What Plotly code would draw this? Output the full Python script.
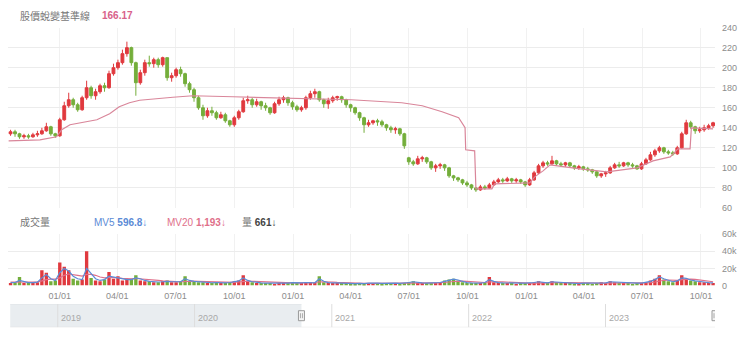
import pandas as pd
import plotly.graph_objects as go

# ---------------- data (weekly estimates) ----------------
week_start = "2020-10-16"
n_weeks = 158

open_ = [134,136,134,131,132,131,133,134,137,141,
         134,132,148,162,168,163,158,170,180,172,
         176,182,180,194,200,205,214,220,205,185,
         195,205,204,208,203,210,190,192,198,194,
         184,178,170,160,152,157,155,150,153,147,
         143,150,156,167,168,163,166,162,160,155,
         164,168,170,165,161,158,160,170,174,176,
         168,164,167,170,171,168,163,160,155,150,
         143,145,147,146,143,140,138,139,134,110,
         106,104,109,110,106,100,102,103,100,92,
         90,88,85,83,80,78,81,80,83,86,
         88,87,89,87,88,86,83,88,95,102,
         105,104,107,104,103,105,102,100,101,99,
         98,96,92,94,95,100,103,102,105,103,
         102,99,104,108,113,117,120,116,115,114,
         120,134,145,141,137,138,140,142]
high = [138,138,135,134,134,135,137,140,145,142,
        135,150,166,175,170,165,172,187,182,179,
        184,185,197,204,208,218,226,221,206,198,
        208,212,210,210,211,210,195,200,201,195,
        186,180,172,163,160,161,157,156,155,148,
        152,158,170,172,170,169,167,165,161,166,
        171,172,171,167,163,162,172,177,179,177,
        169,170,172,172,172,169,164,161,156,151,
        148,148,149,148,144,142,141,140,135,111,
        108,112,112,111,107,104,105,104,101,93,
        91,89,87,84,81,83,83,85,88,90,
        90,91,90,90,89,87,90,97,104,107,
        107,112,108,106,106,106,103,103,102,101,
        99,97,95,97,102,105,106,106,106,105,
        103,106,110,116,119,122,121,118,117,122,
        136,148,147,142,141,143,144,146]
low = [132,131,129,129,129,130,131,133,136,132,
       130,131,147,160,160,156,157,168,169,168,
       174,176,179,192,198,203,211,202,172,183,
       192,201,200,200,201,187,186,190,191,181,
       175,166,158,148,150,152,148,149,145,141,
       141,148,155,164,160,161,158,157,153,154,
       162,165,162,158,156,156,158,168,170,166,
       160,159,165,167,165,160,156,153,147,135,
       141,143,142,141,137,135,134,132,119,103,
       102,103,106,104,98,96,99,97,90,87,
       86,83,81,78,76,77,78,79,82,85,
       85,86,85,85,84,81,82,87,94,100,
       102,103,102,101,101,100,98,98,97,96,
       94,90,90,91,94,99,100,101,101,100,
       98,98,103,107,111,115,114,113,112,113,
       119,133,139,134,135,136,138,140]
close = [136,134,131,132,131,133,134,137,141,134,
         132,148,162,168,163,158,170,180,172,176,
         182,180,194,200,205,214,220,205,185,195,
         205,204,208,203,210,190,192,198,194,184,
         178,170,160,152,157,155,150,153,147,143,
         150,156,167,168,163,166,162,160,155,164,
         168,170,165,161,158,160,170,174,176,168,
         164,167,170,171,168,163,160,155,150,143,
         145,147,146,143,140,138,139,134,122,106,
         104,109,110,106,100,102,103,100,92,90,
         88,85,83,80,78,81,80,83,86,88,
         87,89,87,88,86,83,88,95,102,105,
         104,107,104,103,105,102,100,101,99,98,
         96,92,94,95,100,103,102,105,103,102,
         99,104,108,113,117,120,116,115,114,120,
         134,145,141,137,138,140,142,145]

volume_k = [3,4,10,3,3,4,4,18,15,5,
            6,27,22,18,8,6,7,40,9,6,
            5,7,16,8,11,6,7,8,12,6,
            5,5,4,4,5,6,4,4,5,11,
            5,5,4,4,3,3,4,3,3,4,
            5,6,12,5,4,3,3,3,3,2,
            3,3,3,4,3,3,4,4,3,11,
            4,3,3,3,3,3,2,2,3,2,
            3,3,3,2,3,3,3,2,3,4,
            5,3,3,3,3,3,4,6,7,8,
            6,4,3,3,3,3,4,10,4,3,
            3,3,3,2,3,3,3,4,5,4,
            3,5,4,3,3,3,2,2,3,3,
            2,3,4,3,5,4,3,3,3,2,
            3,3,4,6,8,12,7,5,4,6,
            12,8,6,5,4,4,3,3]
mv5_k = [3.5,3.6,6,5,3.5,3.5,4,9,13,8,
         6,15,20,17,11,8,7,20,14,8,
         6,7,11,10,9,8,7,7,9,8,
         6,5,4.5,4.2,4.5,5,4.5,4.2,4.5,8,
         6,5,4.5,4,3.5,3.3,3.6,3.3,3.2,3.6,
         4.5,5.5,9,6,4.5,3.5,3.2,3,3,2.5,
         2.8,3,3,3.5,3.2,3.1,3.6,3.8,3.3,8,
         5,3.5,3.2,3,3,3,2.5,2.3,2.7,2.3,
         2.8,3,3,2.5,2.8,3,3,2.5,2.8,3.6,
         4.5,3.5,3.2,3,3,3,3.6,5,6.5,7.5,
         6.5,5,3.5,3.2,3,3,3.6,7,5,3.5,
         3.2,3,3,2.5,2.8,3,3,3.6,4.5,4.2,
         3.3,4.5,4.2,3.3,3.1,3,2.5,2.3,2.8,3,
         2.5,2.8,3.6,3.2,4.5,4.2,3.3,3.1,3,2.5,
         2.8,3,3.6,5,7,10,8,6,4.5,5.5,
         9,8.5,6.5,5.5,4.5,4.2,3.4,3.2]
mv20_k = [4,4,4.2,4.3,4.3,4.2,4.3,5.5,7,7.5,
          7.5,9,12,13.5,13,12,11,13,13,12,
          10,9,9.5,9.5,9,8.5,8,8,8.3,8,
          7.5,7,6.5,6,5.5,5,4.8,4.6,4.5,5,
          5.2,5.2,5,4.8,4.5,4.2,4,3.8,3.6,3.6,
          3.8,4.2,5,5.2,5,4.8,4.5,4,3.6,3.3,
          3.1,3,3,3.1,3.2,3.2,3.3,3.4,3.5,4.5,
          4.6,4.5,4.2,3.8,3.5,3.2,3,2.8,2.7,2.6,
          2.6,2.7,2.8,2.8,2.8,2.8,2.9,2.9,2.9,3,
          3.3,3.4,3.4,3.3,3.2,3.2,3.3,3.6,4.2,4.8,
          5.2,5.2,5,4.6,4.2,3.8,3.6,4.3,4.6,4.5,
          4.3,4,3.6,3.3,3,2.9,2.9,3,3.2,3.4,
          3.5,3.6,3.7,3.7,3.6,3.5,3.3,3,2.9,2.8,
          2.7,2.7,2.8,2.9,3.1,3.3,3.4,3.4,3.3,3.1,
          3,2.9,3,3.4,4.2,5.5,6.2,6.5,6.4,6.2,
          7,7.5,7.6,7.2,6.5,5.8,5,4.5]

basis_dates = ["2020-10-13","2020-12-01","2020-12-27","2021-01-04","2021-01-17",
               "2021-02-28","2021-03-20","2021-04-04","2021-04-20","2021-05-06",
               "2021-06-27","2021-07-28","2021-09-29","2022-01-13","2022-04-02",
               "2022-06-20","2022-07-22","2022-08-22","2022-09-17","2022-09-27",
               "2022-09-28","2022-10-12","2022-10-14","2022-11-08","2022-11-12",
               "2023-01-06","2023-01-14","2023-01-27","2023-02-07","2023-03-26",
               "2023-05-07","2023-06-23","2023-07-18","2023-08-14","2023-08-26",
               "2023-09-14","2023-09-16","2023-10-20"]
basis_vals = [127,128,131,138,143,
              148,154,161,165,167.5,
              170.5,172,171,169,168,
              165,162,156,150,140,
              118,117,79,79,84,
              85,91,97,103,99,
              96,100,107,111,119,
              119,140,139]

price_ticks = [60, 80, 100, 120, 140, 160, 180, 200, 220, 240]
vol_ticks = [0, 20, 40, 60]
vol_tick_text = ["0", "20k", "40k", "60k"]
nav_years = ["2019", "2020", "2021", "2022", "2023"]

title_label = "股價蛻變基準線"
title_value = "166.17"
vol_label = "成交量"
mv5_label, mv5_value = "MV5", "596.8↓"
mv20_label, mv20_value = "MV20", "1,193↓"
qty_label, qty_value = "量", "661↓"

view_start, view_end = "2020-10-12", "2023-10-23"
nav_start, nav_end = "2018-08-27", "2023-10-20"

for arr in (open_, high, low, close, volume_k, mv5_k, mv20_k):
    assert len(arr) == n_weeks
assert len(basis_dates) == len(basis_vals)

dates = pd.date_range(week_start, periods=n_weeks, freq="7D")

# ---------------- styling ----------------
RED = "#e0393e"
GREEN = "#74ae3b"
PINK_LINE = "#d9869a"
BLUE = "#5b8bd6"
PINK = "#e0708a"
GRID = "#ececec"
TXT = "#8c8c8c"
FONT = "Liberation Sans, Noto Sans CJK TC, sans-serif"

H = 344.0
def py(px):
    return 1 - px / H

fig = go.Figure()

fig.add_trace(go.Candlestick(
    x=dates, open=open_, high=high, low=low, close=close,
    increasing=dict(line=dict(color=RED, width=1), fillcolor=RED),
    decreasing=dict(line=dict(color=GREEN, width=1), fillcolor=GREEN),
    whiskerwidth=0, xaxis="x", yaxis="y", showlegend=False, hoverinfo="skip"))

fig.add_trace(go.Scatter(
    x=basis_dates, y=basis_vals, mode="lines",
    line=dict(color=PINK_LINE, width=1.2), xaxis="x", yaxis="y",
    showlegend=False, hoverinfo="skip"))

bar_colors = [RED if c >= o else GREEN for o, c in zip(open_, close)]
fig.add_trace(go.Bar(
    x=dates, y=volume_k, marker=dict(color=bar_colors, line=dict(width=0)),
    xaxis="x2", yaxis="y2", showlegend=False, hoverinfo="skip"))
fig.add_trace(go.Scatter(
    x=dates, y=mv20_k, mode="lines", line=dict(color=PINK, width=1.2),
    xaxis="x2", yaxis="y2", showlegend=False, hoverinfo="skip"))
fig.add_trace(go.Scatter(
    x=dates, y=mv5_k, mode="lines", line=dict(color=BLUE, width=1.2),
    xaxis="x2", yaxis="y2", showlegend=False, hoverinfo="skip"))

# invisible trace to hold navigator axis
fig.add_trace(go.Scatter(x=[nav_start, nav_end], y=[None, None], mode="lines",
                         xaxis="x3", yaxis="y3", showlegend=False, hoverinfo="skip"))

shapes = []
# navigator shading and frame
shapes.append(dict(type="rect", xref="x3", yref="y3", x0=nav_start, x1=view_start,
                   y0=0, y1=1, fillcolor="#e9edf0", line=dict(width=0), layer="below"))
shapes.append(dict(type="line", xref="x3", yref="y3", x0=nav_start, x1=nav_end,
                   y0=0, y1=0, line=dict(color="#dcdcdc", width=1)))
shapes.append(dict(type="line", xref="x3", yref="y3", x0=nav_start, x1=view_start,
                   y0=1, y1=1, line=dict(color="#dfe3e6", width=1)))
for yr in nav_years:
    shapes.append(dict(type="line", xref="x3", yref="y3", x0=f"{yr}-01-01", x1=f"{yr}-01-01",
                       y0=0, y1=1, line=dict(color="#dddddd", width=1)))
for hx in (view_start, nav_end):
    shapes.append(dict(type="rect", xref="x3", yref="y3", xsizemode="pixel", ysizemode="pixel",
                       xanchor=hx, yanchor=0.5, x0=-3, x1=3, y0=-5, y1=5,
                       fillcolor="#f4f4f4", line=dict(color="#9a9a9a", width=1)))
    for dx in (-1, 1):
        shapes.append(dict(type="line", xref="x3", yref="y3", xsizemode="pixel", ysizemode="pixel",
                           xanchor=hx, yanchor=0.5, x0=dx, x1=dx, y0=-2.5, y1=2.5,
                           line=dict(color="#9a9a9a", width=0.8)))

annotations = []
def ann(text, xpx, ypx, color, size=10):
    annotations.append(dict(text=text, xref="paper", yref="paper",
                            x=(xpx - 8) / 707.0, y=py(ypx), xanchor="left", yanchor="middle",
                            showarrow=False, font=dict(color=color, size=size, family=FONT)))

ann(title_label, 18, 11, "#777777", 10)
ann(f"<b>{title_value}</b>", 100, 11, "#d8628a", 10)
ann(vol_label, 18, 224, "#777777", 10)
ann(f"{mv5_label} <b>{mv5_value}</b>", 92, 224, BLUE, 10)
ann(f"{mv20_label} <b>{mv20_value}</b>", 165, 224, PINK, 10)
ann(f"<span style='color:#777777'>{qty_label}</span> <b>{qty_value}</b>", 240, 224, "#444444", 10)

for yr in nav_years:
    annotations.append(dict(text=yr, xref="x3", yref="y3", x=f"{yr}-01-01", y=0.08,
                            xanchor="left", yanchor="bottom", xshift=1, showarrow=False,
                            font=dict(color="#a8a8a8", size=9, family=FONT)))

fig.update_layout(
    width=740, height=344,
    margin=dict(l=8, r=25, t=0, b=0),
    paper_bgcolor="white", plot_bgcolor="white",
    font=dict(family=FONT, size=9, color=TXT),
    bargap=0.25,
    boxgap=0.1,
    showlegend=False,
    xaxis=dict(domain=[0, 1], range=[view_start, view_end], type="date",
               rangeslider=dict(visible=False), showticklabels=False,
               tick0="2021-01-01", dtick="M3", showgrid=True, gridcolor="#f1f1f1",
               zeroline=False, showline=False, anchor="y"),
    yaxis=dict(domain=[py(209), py(23.3)], range=[60, 240], side="right",
               tickvals=price_ticks, showgrid=True, gridcolor=GRID, zeroline=False,
               tickfont=dict(size=9, color=TXT), ticks="", ticklabelstandoff=6,
               anchor="x"),
    xaxis2=dict(domain=[0, 1], matches="x", type="date", anchor="y2",
                tick0="2021-01-01", dtick="M3", tickformat="%m/%d",
                showgrid=True, gridcolor="#f1f1f1", zeroline=False, showline=False,
                ticks="", tickfont=dict(size=9, color=TXT), ticklabelstandoff=3),
    yaxis2=dict(domain=[py(289), py(236)], range=[0, 60], side="right",
                tickvals=vol_ticks, ticktext=vol_tick_text, showgrid=True,
                gridcolor=GRID, zeroline=False, ticks="",
                tickfont=dict(size=9, color=TXT), ticklabelstandoff=6, anchor="x2"),
    xaxis3=dict(domain=[0.003, 1.0], range=[nav_start, nav_end], type="date",
                showticklabels=False, showgrid=False, zeroline=False, showline=False,
                ticks="", anchor="y3"),
    yaxis3=dict(domain=[py(332), py(308)], range=[0, 1], visible=False, anchor="x3"),
    shapes=shapes,
    annotations=annotations,
)

fig.write_html("out.html")
